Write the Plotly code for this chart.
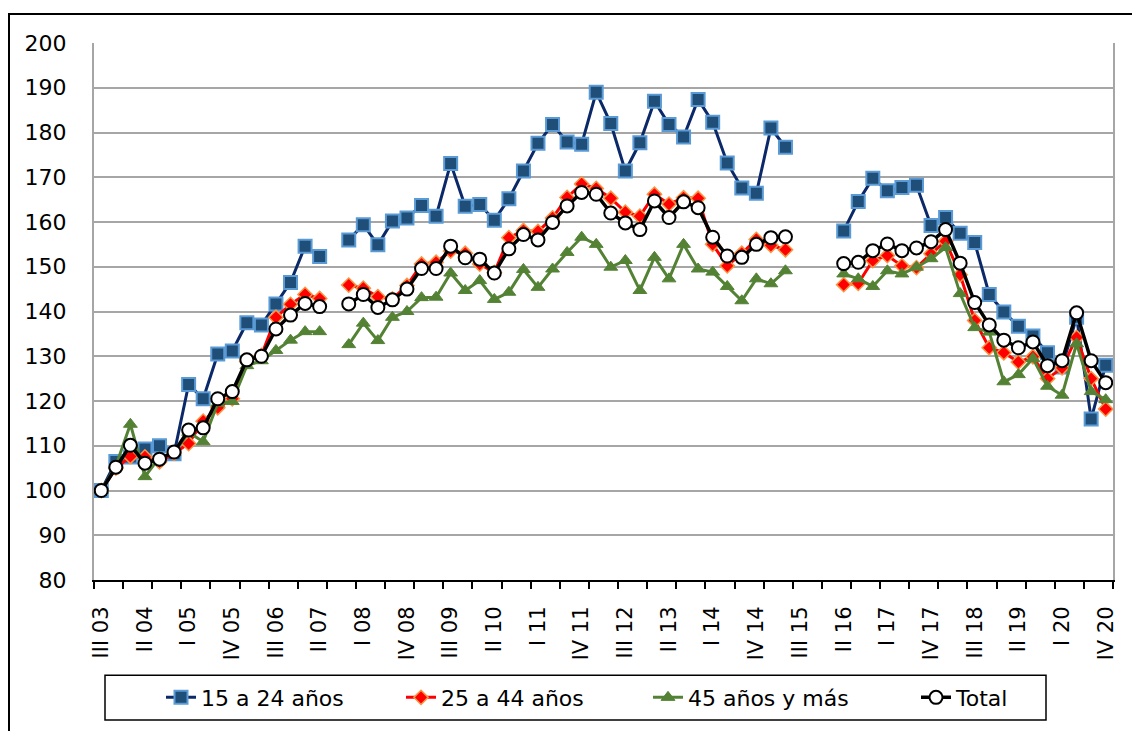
import plotly.graph_objects as go

quarters = ["III 03", "IV 03", "I 04", "II 04", "III 04", "IV 04", "I 05", "II 05", "III 05", "IV 05",
            "I 06", "II 06", "III 06", "IV 06", "I 07", "II 07", "III 07", "IV 07", "I 08", "II 08",
            "III 08", "IV 08", "I 09", "II 09", "III 09", "IV 09", "I 10", "II 10", "III 10", "IV 10",
            "I 11", "II 11", "III 11", "IV 11", "I 12", "II 12", "III 12", "IV 12", "I 13", "II 13",
            "III 13", "IV 13", "I 14", "II 14", "III 14", "IV 14", "I 15", "II 15", "III 15", "IV 15",
            "I 16", "II 16", "III 16", "IV 16", "I 17", "II 17", "III 17", "IV 17", "I 18", "II 18",
            "III 18", "IV 18", "I 19", "II 19", "III 19", "IV 19", "I 20", "II 20", "III 20", "IV 20"]

y_15_24 = [100.0, 106.5, 107.5, 109.3, 110.0, 108.2, 123.7, 120.5, 130.5, 131.2,
           137.5, 137.0, 141.7, 146.5, 154.6, 152.3, None, 156.0, 159.4, 154.9,
           160.2, 160.9, 163.7, 161.3, 173.1, 163.5, 163.9, 160.4, 165.2, 171.4,
           177.6, 181.8, 177.9, 177.4, 189.0, 182.0, 171.4, 177.7, 187.0, 181.8,
           179.0, 187.4, 182.3, 173.2, 167.6, 166.4, 181.0, 176.7, None, None,
           None, 158.0, 164.6, 169.8, 167.0, 167.7, 168.2, 159.2, 161.0, 157.5,
           155.4, 143.8, 139.9, 136.7, 134.5, 130.8, 127.6, 138.7, 116.0, 128.0]

y_25_44 = [100.0, 105.0, 107.6, 107.5, 106.4, 108.3, 110.5, 115.5, 118.5, 120.5,
           128.8, 130.2, 138.7, 141.6, 143.8, 142.9, None, 145.9, 145.2, 143.3,
           142.8, 145.8, 150.6, 151.0, 153.5, 153.0, 150.6, 148.7, 156.5, 158.1,
           157.9, 160.9, 165.5, 168.5, 167.5, 165.3, 162.2, 161.3, 166.2, 164.0,
           165.4, 165.3, 155.0, 150.2, 153.0, 156.1, 154.8, 153.8, None, None,
           None, 146.0, 146.3, 151.4, 152.5, 150.2, 149.8, 152.9, 155.7, 148.2,
           138.0, 131.9, 130.8, 128.7, 129.9, 125.0, 127.4, 134.2, 125.0, 118.2]

y_45_mas = [100.0, 105.5, 114.8, 103.1, 107.4, 108.4, 113.0, 110.9, 119.5, 119.9,
            127.9, 129.0, 131.3, 133.6, 135.5, 135.5, None, 132.6, 137.4, 133.5,
            138.7, 140.0, 143.1, 143.2, 148.6, 144.7, 146.9, 142.7, 144.3, 149.4,
            145.4, 149.5, 153.2, 156.6, 155.0, 149.9, 151.4, 144.7, 152.1, 147.3,
            155.0, 149.5, 148.8, 145.6, 142.4, 147.3, 146.2, 149.1, None, None,
            None, 148.4, 147.3, 145.6, 149.1, 148.4, 149.9, 151.8, 154.3, 144.0,
            136.4, 135.4, 124.3, 125.9, 129.5, 123.3, 121.3, 132.8, 122.1, 120.3]

y_total = [100.0, 105.2, 110.1, 106.1, 107.0, 108.6, 113.5, 114.0, 120.5, 122.1,
           129.2, 130.0, 136.1, 139.2, 141.8, 141.1, None, 141.7, 143.8, 140.9,
           142.6, 145.0, 149.6, 149.6, 154.6, 152.0, 151.7, 148.6, 154.0, 157.2,
           156.0, 159.9, 163.6, 166.6, 166.2, 162.0, 159.8, 158.3, 164.7, 161.0,
           164.5, 163.2, 156.6, 152.4, 152.1, 155.0, 156.5, 156.7, None, None,
           None, 150.7, 151.0, 153.6, 155.1, 153.6, 154.2, 155.6, 158.3, 150.8,
           142.0, 137.0, 133.6, 131.9, 133.2, 127.9, 129.0, 139.7, 129.0, 124.1]

series_names = ["15 a 24 años", "25 a 44 años", "45 años y más", "Total"]

x = list(range(len(quarters)))
tick_idx = x[::3]
tick_txt = quarters[::3]

FONT = "DejaVu Sans"

fig = go.Figure()
fig.add_trace(go.Scatter(
    x=x, y=y_15_24, name=series_names[0], mode="lines+markers",
    line=dict(color="#0B2868", width=3),
    marker=dict(symbol="square", size=13, color="#1F4E79", line=dict(color="#5B9BD5", width=2)),
    connectgaps=False, legendwidth=195))
fig.add_trace(go.Scatter(
    x=x, y=y_25_44, name=series_names[1], mode="lines+markers",
    line=dict(color="#FF0000", width=3),
    marker=dict(symbol="diamond", size=11, color="#FF0000", line=dict(color="#F79646", width=1.5)),
    connectgaps=False, legendwidth=202))
fig.add_trace(go.Scatter(
    x=x, y=y_45_mas, name=series_names[2], mode="lines+markers",
    line=dict(color="#548235", width=3),
    marker=dict(symbol="triangle-up", size=12, color="#548235", line=dict(color="#548235", width=1)),
    connectgaps=False, legendwidth=223))
fig.add_trace(go.Scatter(
    x=x, y=y_total, name=series_names[3], mode="lines+markers",
    line=dict(color="#000000", width=3.5),
    marker=dict(symbol="circle", size=13, color="#FFFFFF", line=dict(color="#000000", width=2)),
    connectgaps=False, legendwidth=80))

L, R, T, B = 94, 19, 43, 149
W, H = 1132, 731
pw, ph = W - L - R, H - T - B


def px_x(p):
    return (p - L) / pw


def px_y(p):
    return (H - B - p) / ph


fig.update_layout(
    width=W, height=H,
    margin=dict(l=L, r=R, t=T, b=B),
    paper_bgcolor="white", plot_bgcolor="white",
    font=dict(family=FONT, size=21, color="#000000"),
    showlegend=True,
    legend=dict(orientation="h", x=px_x(161), xanchor="left", y=px_y(700), yanchor="middle",
                font=dict(family=FONT, size=22, color="#000000"),
                bgcolor="rgba(0,0,0,0)", borderwidth=0),
    xaxis=dict(range=[-0.5, 69.5], tickmode="array", tickvals=tick_idx, ticktext=tick_txt,
               tickangle=-90, ticks="", showgrid=False, zeroline=False,
               showline=True, linecolor="#000000", linewidth=2,
               ticklabelstandoff=16,
               minor=dict(tickmode="linear", tick0=-0.5, dtick=2, ticks="outside",
                          ticklen=7, tickcolor="#000000", tickwidth=1.5, showgrid=False),
               tickfont=dict(family=FONT, size=21, color="#000000")),
    yaxis=dict(range=[80, 200], dtick=10, tick0=80, ticks="", showgrid=True,
               gridcolor="#A6A6A6", gridwidth=2, zeroline=False,
               showline=True, linecolor="#A6A6A6", linewidth=2, mirror=True,
               ticklabelstandoff=21,
               tickfont=dict(family=FONT, size=22, color="#000000")),
    shapes=[
        dict(type="rect", xref="paper", yref="paper",
             x0=px_x(105), x1=px_x(1046), y0=px_y(722.5), y1=px_y(677.5),
             line=dict(color="#000000", width=1.5), fillcolor="rgba(0,0,0,0)"),
        dict(type="rect", xref="paper", yref="paper",
             x0=px_x(9), x1=px_x(1145), y0=px_y(745), y1=px_y(14),
             line=dict(color="#000000", width=2), fillcolor="rgba(0,0,0,0)"),
    ],
)

fig.write_html("out.html", config={"displayModeBar": False},
               post_script="document.body.style.margin='0';document.body.style.overflow='hidden';")
